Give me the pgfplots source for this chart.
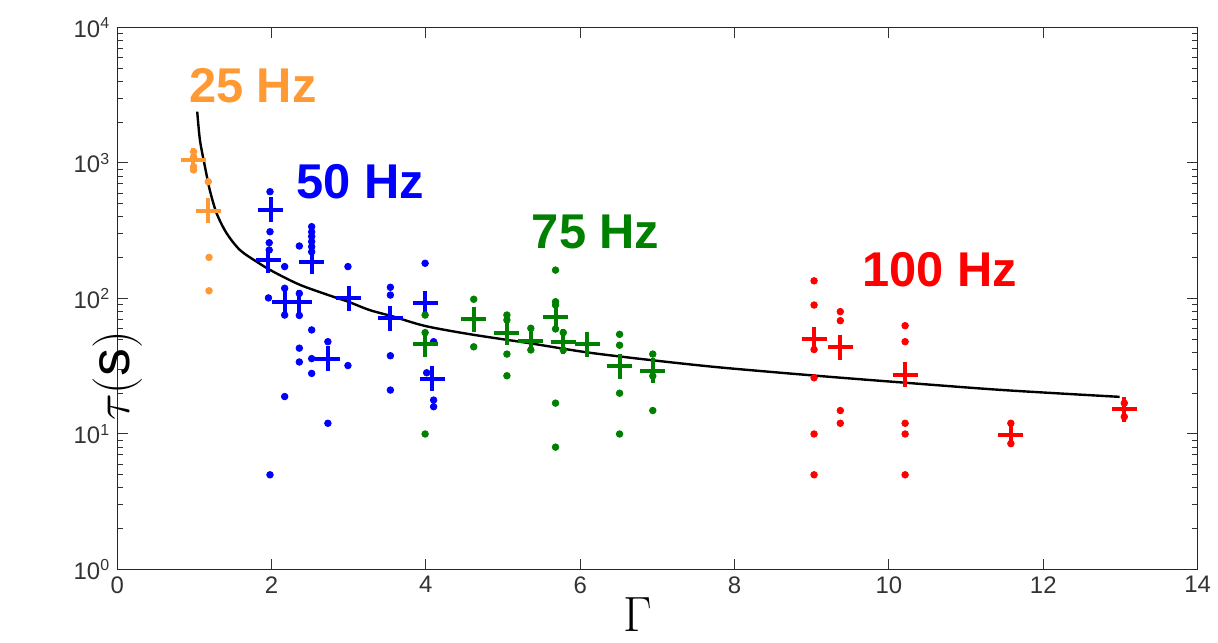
\documentclass[border=0pt]{standalone}
\usepackage{fontspec}
\setmainfont{Liberation Sans}
\usepackage{pgfplots}
\pgfplotsset{compat=1.18}
\definecolor{orng}{RGB}{255,153,51}
\definecolor{grn}{RGB}{0,128,0}
\definecolor{blu}{RGB}{0,0,255}
\definecolor{rd}{RGB}{255,0,0}
\begin{document}
\begin{tikzpicture}
\useasboundingbox (0,0) rectangle (609bp,321.5bp);
\begin{axis}[
  at={(58.6bp,36.75bp)}, anchor=south west,
  scale only axis, width=540.2bp, height=271bp,
  xmin=0, xmax=14, ymin=1, ymax=10000,
  ymode=log, log basis y=10,
  xtick={0,2,...,14},
  ytick={1,10,100,1000,10000},
  minor ytick={2,3,4,5,6,7,8,9,20,30,40,50,60,70,80,90,200,300,400,500,600,700,800,900,2000,3000,4000,5000,6000,7000,8000,9000},
  yticklabels={10\textsuperscript{0},10\textsuperscript{1},10\textsuperscript{2},10\textsuperscript{3},10\textsuperscript{4}},
  tick label style={font=\fontsize{12}{14}\selectfont, text=black!80},
  /pgf/number format/assume math mode=true,
  tick align=inside,
  major tick length=5.5bp, minor tick length=2.7bp,
  every tick/.style={black!80, line width=0.5bp},
  axis line style={black!85, line width=0.6bp},
  clip=false,
]
% curve
\addplot[black, line width=1.2bp, smooth, tension=0.5] coordinates {
(1.037,2393)(1.072,1479)(1.137,940)(1.2,631)(1.288,426)(1.418,303)(1.59,228)(1.806,187)(2.02,158)(2.37,126)(2.8,103)(3.0,94.4)(3.27,82.2)(3.58,73.5)(3.99,62.7)(4.57,54.5)(5.35,46.7)(6.08,40.1)(6.9,35.2)(7.81,31.0)(9.1,26.8)(10.21,23.9)(11.48,21.1)(12.99,18.8)};
% 25 Hz
\addplot[orng, only marks, mark=*, mark size=1.65bp, mark options={draw=orng,fill=orng}] coordinates {
(0.99,1211)(0.99,1113)(0.99,940)(0.99,888)(1.18,728)(1.19,201)(1.19,114)};
\addplot[orng, only marks, mark=+, mark size=6.25bp, mark options={orng, line width=2bp}] coordinates {
(0.985,1052)(1.18,443)};
% 50 Hz
\addplot[blu, only marks, mark=*, mark size=1.65bp, mark options={draw=blu,fill=blu}] coordinates {
(1.98,614)(1.98,311)(1.97,258)(1.97,228)(1.96,101)(1.98,5)
(2.17,172)(2.17,119)(2.17,75.5)(2.17,18.9)
(2.36,244)(2.36,109)(2.36,75)(2.36,43)(2.36,34)
(2.52,339)(2.52,310)(2.52,287)(2.52,263)(2.52,241)(2.52,221)(2.52,58.6)(2.52,36)(2.52,28)
(2.73,48)(2.73,12)
(2.99,172)(2.99,32)
(3.54,121)(3.54,106)(3.54,37.8)(3.54,21.1)
(3.99,182)(4.01,28.3)
(4.1,48)(4.1,17.8)(4.1,15.9)};
\addplot[blu, only marks, mark=+, mark size=6.25bp, mark options={blu, line width=2bp}] coordinates {
(1.99,450)(1.96,192)(2.17,95)(2.36,94)(2.52,186)(2.73,35.8)(3.0,100)(3.54,71.4)(3.99,92)(4.08,25.5)};
% 75 Hz
\addplot[grn, only marks, mark=*, mark size=1.65bp, mark options={draw=grn,fill=grn}] coordinates {
(3.99,75.5)(3.99,56)(3.99,10)
(4.62,98.7)(4.62,44)
(5.05,75.5)(5.05,69.4)(5.05,38.9)(5.05,26.9)
(5.36,60.3)(5.36,41.7)
(5.68,162)(5.68,94.7)(5.68,89.5)(5.68,59.6)(5.68,16.9)(5.68,8.0)
(5.78,56)(5.78,41.7)
(6.51,54.4)(6.51,45.2)(6.51,20)(6.51,10)
(6.94,38.9)(6.94,26.8)(6.94,14.9)};
\addplot[grn, only marks, mark=+, mark size=6.25bp, mark options={grn, line width=2bp}] coordinates {
(3.99,45.9)(4.62,70.2)(5.05,56)(5.36,48.6)(5.68,73.4)(5.78,48)(6.09,46)(6.51,31.6)(6.94,29.3)};
% 100 Hz
\addplot[rd, only marks, mark=*, mark size=1.65bp, mark options={draw=rd,fill=rd}] coordinates {
(9.03,135)(9.03,89.5)(9.03,42)(9.03,26)(9.03,10)(9.03,5)
(9.37,80)(9.37,68.6)(9.37,14.9)(9.37,12)
(10.21,63)(10.21,48)(10.21,12)(10.21,10)(10.21,5)
(11.58,12)(11.58,8.5)
(13.05,16.9)(13.05,13.4)};
\addplot[rd, only marks, mark=+, mark size=6.25bp, mark options={rd, line width=2bp}] coordinates {
(9.03,50)(9.37,43.6)(10.21,27.3)(11.58,9.9)(13.05,15.2)};
% labels
\node[text=orng, font=\fontsize{24.5}{26}\selectfont\bfseries] at (axis cs:1.758,3700) {25 Hz};
\node[text=blu, font=\fontsize{24.5}{26}\selectfont\bfseries] at (axis cs:3.15,724) {50 Hz};
\node[text=grn, font=\fontsize{24.5}{26}\selectfont\bfseries] at (axis cs:6.2,310) {75 Hz};
\node[text=rd, font=\fontsize{24.5}{26}\selectfont\bfseries] at (axis cs:10.66,162) {100 Hz};
\node[anchor=base, font=\fontsize{26}{28}\selectfont, inner sep=0pt] at (axis description cs:0.482,0) [yshift=-31bp] {$\Gamma$};
\node[rotate=90, font=\fontsize{28}{30}\selectfont] at (axis description cs:0,0.49) [xshift=-36bp] {$\tau(\mathrm{s})$};
\end{axis}
\end{tikzpicture}
\end{document}
